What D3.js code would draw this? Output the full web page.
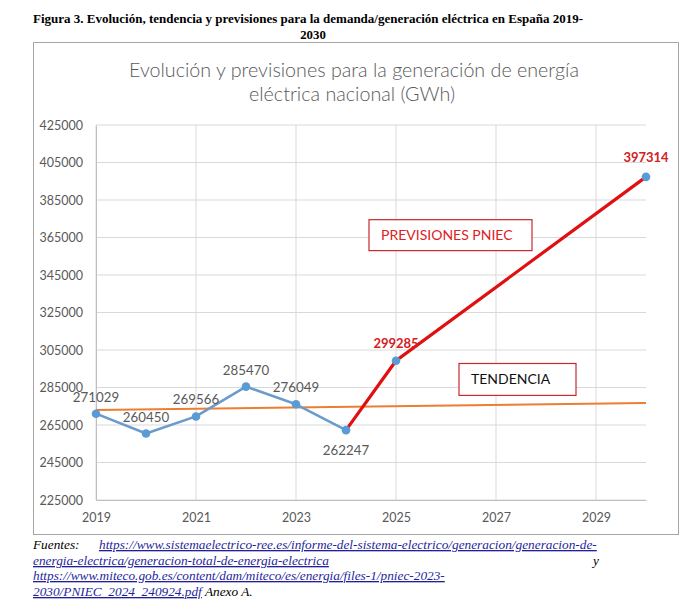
<!DOCTYPE html>
<html>
<head>
<meta charset="utf-8">
<script src="https://cdn.jsdelivr.net/npm/d3@7"></script>
<style>
  body { margin: 0; background: #fff; }
  svg { display: block; }
</style>
</head>
<body>
<svg id="chart" width="694" height="602"></svg>
<script>
// datos
const years = [2019, 2020, 2021, 2022, 2023, 2024]
const generacion = [271029, 260450, 269566, 285470, 276049, 262247]
const prevYears = [2024, 2025, 2030]
const previsiones = [262247, 299285, 397314]
const trendYears = [2019, 2030]
const trendValues = [273000, 276700]
const xTicks = [2019, 2021, 2023, 2025, 2027, 2029]
const yTicks = [225000, 245000, 265000, 285000, 305000, 325000, 345000, 365000, 385000, 405000, 425000]

const svg = d3.select('#chart')
const labelFont = 'Lato, "Open Sans", sans-serif'
const gray = '#595959'

const x = d3.scaleLinear().domain([2019, 2030]).range([96, 646])
const y = d3.scaleLinear().domain([225000, 425000]).range([500, 125])

// caption
svg.append('text')
    .attr('x', 33).attr('y', 23)
    .attr('font-family', '"Liberation Serif", serif')
    .attr('font-weight', 'bold')
    .attr('font-size', 12.8)
    .attr('textLength', 550)
    .attr('lengthAdjust', 'spacingAndGlyphs')
    .text('Figura 3. Evolución, tendencia y previsiones para la demanda/generación eléctrica en España 2019-')
svg.append('text')
    .attr('x', 313).attr('y', 39)
    .attr('text-anchor', 'middle')
    .attr('font-family', '"Liberation Serif", serif')
    .attr('font-weight', 'bold')
    .attr('font-size', 12.8)
    .text('2030')

// chart frame
svg.append('rect')
    .attr('x', 33.5).attr('y', 42.5)
    .attr('width', 645).attr('height', 492)
    .attr('fill', '#fff')
    .attr('stroke', '#a6a6a6')

// chart title
const title = svg.append('text')
    .attr('text-anchor', 'middle')
    .attr('font-family', labelFont)
    .attr('font-weight', 300)
    .attr('font-size', 19.7)
    .attr('fill', gray)
title.append('tspan').attr('x', 354).attr('y', 77)
    .text('Evolución y previsiones para la generación de energía')
title.append('tspan').attr('x', 352).attr('y', 101)
    .text('eléctrica nacional (GWh)')

// gridlines
svg.append('g')
    .selectAll('line')
    .data(yTicks)
    .join('line')
    .attr('x1', x(2019)).attr('x2', x(2030))
    .attr('y1', d => y(d)).attr('y2', d => y(d))
    .attr('stroke', '#d9d9d9')
svg.append('g')
    .selectAll('line')
    .data(xTicks)
    .join('line')
    .attr('x1', d => x(d)).attr('x2', d => x(d))
    .attr('y1', y(425000)).attr('y2', y(225000))
    .attr('stroke', '#d9d9d9')

// axes
const yAxis = svg.append('g')
    .attr('transform', `translate(${x(2019)},0)`)
    .call(d3.axisLeft(y).tickValues(yTicks).tickSize(0).tickPadding(13).tickFormat(d3.format('d')))
yAxis.select('.domain').attr('stroke', '#bfbfbf')
yAxis.selectAll('text')
    .attr('font-family', labelFont)
    .attr('font-size', 12.5)
    .attr('fill', gray)

const xAxis = svg.append('g')
    .attr('transform', `translate(0,${y(225000)})`)
    .call(d3.axisBottom(x).tickValues(xTicks).tickSize(0).tickPadding(13).tickFormat(d3.format('d')))
xAxis.select('.domain').attr('stroke', '#bfbfbf')
xAxis.selectAll('text')
    .attr('font-family', labelFont)
    .attr('font-size', 12.5)
    .attr('fill', gray)

const line = d3.line().x(d => x(d[0])).y(d => y(d[1]))

// trend line
svg.append('path')
    .attr('d', line(d3.zip(trendYears, trendValues)))
    .attr('fill', 'none')
    .attr('stroke', '#ed7d31')
    .attr('stroke-width', 2)

// historical series
svg.append('path')
    .attr('d', line(d3.zip(years, generacion)))
    .attr('fill', 'none')
    .attr('stroke', '#6a9bcb')
    .attr('stroke-width', 2.5)
    .attr('stroke-linejoin', 'round')

// PNIEC forecast
svg.append('path')
    .attr('d', line(d3.zip(prevYears, previsiones)))
    .attr('fill', 'none')
    .attr('stroke', '#e01010')
    .attr('stroke-width', 3.2)

// markers
const pts = d3.zip(years, generacion).concat(d3.zip(prevYears, previsiones).slice(1))
svg.append('g')
    .selectAll('circle')
    .data(pts)
    .join('circle')
    .attr('cx', d => x(d[0]))
    .attr('cy', d => y(d[1]))
    .attr('r', 4.3)
    .attr('fill', '#5b9bd5')

// data labels of historical series
svg.append('g')
    .selectAll('text')
    .data(d3.zip(years, generacion))
    .join('text')
    .attr('x', d => x(d[0]))
    .attr('y', (d, i) => i === years.length - 1 ? y(d[1]) + 25 : y(d[1]) - 12)
    .attr('text-anchor', 'middle')
    .attr('font-family', labelFont)
    .attr('font-size', 13.3)
    .attr('fill', gray)
    .text(d => d[1])

// data labels of forecast
svg.append('g')
    .selectAll('text')
    .data(d3.zip(prevYears, previsiones).slice(1))
    .join('text')
    .attr('x', d => x(d[0]))
    .attr('y', (d, i) => y(d[1]) - (i === 0 ? 13 : 15))
    .attr('text-anchor', 'middle')
    .attr('font-family', labelFont)
    .attr('font-weight', 'bold')
    .attr('font-size', 13)
    .attr('fill', '#d42020')
    .text(d => d[1])

// annotation boxes
function annotation(x0, x1, v0, v1, label, color) {
    svg.append('rect')
        .attr('x', x(x0)).attr('y', y(v0))
        .attr('width', x(x1) - x(x0))
        .attr('height', y(v1) - y(v0))
        .attr('fill', '#fff')
        .attr('stroke', '#c8282d')
        .attr('stroke-width', 1.2)
    svg.append('text')
        .attr('x', x(x0) + 12)
        .attr('y', (y(v0) + y(v1)) / 2 + 5)
        .attr('font-family', labelFont)
        .attr('font-size', 14)
        .attr('fill', color)
        .text(label)
}
annotation(2024.46, 2027.72, 374500, 358000, 'PREVISIONES PNIEC', '#e0201f')
annotation(2026.26, 2028.6, 297800, 280800, 'TENDENCIA', '#111')

// sources
const foot = svg.append('g')
    .attr('font-family', '"Liberation Serif", serif')
    .attr('font-style', 'italic')
    .attr('font-size', 13.3)
const link = '#1f1f9c'
foot.append('text').attr('x', 33).attr('y', 549).text('Fuentes:')
foot.append('text').attr('x', 99).attr('y', 549)
    .attr('fill', link).attr('text-decoration', 'underline')
    .text('https://www.sistemaelectrico-ree.es/informe-del-sistema-electrico/generacion/generacion-de-')
foot.append('text').attr('x', 33).attr('y', 565)
    .attr('fill', link).attr('text-decoration', 'underline')
    .text('energia-electrica/generacion-total-de-energia-electrica')
foot.append('text').attr('x', 593).attr('y', 565).text('y')
foot.append('text').attr('x', 33).attr('y', 580)
    .attr('fill', link).attr('text-decoration', 'underline')
    .text('https://www.miteco.gob.es/content/dam/miteco/es/energia/files-1/pniec-2023-')
const last = foot.append('text').attr('x', 33).attr('y', 596)
last.append('tspan')
    .attr('fill', link).attr('text-decoration', 'underline')
    .text('2030/PNIEC_2024_240924.pdf')
last.append('tspan').text(' Anexo A.')
</script>
</body>
</html>
